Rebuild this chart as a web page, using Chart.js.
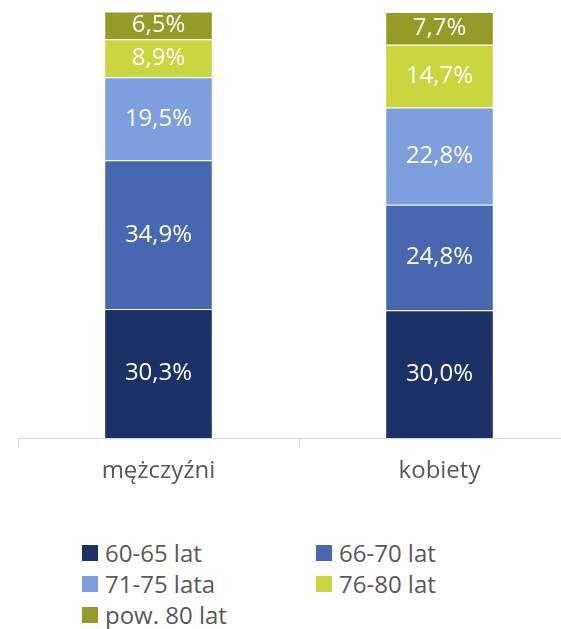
<!DOCTYPE html>
<html><head><meta charset="utf-8">
<script src="https://cdn.jsdelivr.net/npm/chart.js@4/dist/chart.umd.min.js"></script>
<style>
  html, body { margin: 0; padding: 0; background: #fff; overflow: hidden; }
  #wrap { position: absolute; left: 0; top: 0; width: 600px; height: 495px; }
  #legend { position: absolute; left: 82px; top: 538px; width: 470px; font-family: 'Open Sans', sans-serif;
    font-size: 24px; color: #595959; display: grid; grid-template-columns: 234px 234px; row-gap: 2px; }
  .lg { display: flex; align-items: center; height: 29px; }
  .sq { width: 16px; height: 16px; margin-right: 7px; flex: none; }
</style></head>
<body>
<div id="wrap"><canvas id="c"></canvas></div>
<div id="legend"></div>
<script>
const CATEGORIES = ['mężczyźni', 'kobiety'];
const SERIES = ['60-65 lat', '66-70 lat', '71-75 lata', '76-80 lat', 'pow. 80 lat'];
const V_60_65 = [30.3, 30.0];
const V_66_70 = [34.9, 24.8];
const V_71_75 = [19.5, 22.8];
const V_76_80 = [8.9, 14.7];
const V_80P = [6.5, 7.7];
const COLORS = ['#1c3168', '#4768b0', '#7e9fde', '#c9d640', '#949b27'];

const values = [V_60_65, V_66_70, V_71_75, V_76_80, V_80P];
const FONT = "'Open Sans', sans-serif";

// value labels centred on each stacked segment
const segLabels = {
  id: 'segLabels',
  afterDatasetsDraw(chart) {
    const ctx = chart.ctx;
    ctx.save();
    ctx.fillStyle = '#fff';
    ctx.font = `24px ${FONT}`;
    ctx.textAlign = 'center';
    ctx.textBaseline = 'middle';
    chart.data.datasets.forEach((ds, di) => {
      chart.getDatasetMeta(di).data.forEach((bar, i) => {
        const mid = (bar.y + bar.base) / 2;
        ctx.fillText(ds.data[i].toFixed(1).replace('.', ',') + '%', bar.x, mid);
      });
    });
    ctx.restore();
  }
};

new Chart(document.getElementById('c'), {
  type: 'bar',
  data: {
    labels: CATEGORIES,
    datasets: SERIES.map((s, i) => ({
      label: s,
      data: values[i],
      backgroundColor: COLORS[i],
      borderColor: '#ffffff',
      borderWidth: { top: 1, bottom: 0, left: 0, right: 0 },
      barPercentage: 0.76,
      categoryPercentage: 0.5,
    })),
  },
  options: {
    responsive: true, maintainAspectRatio: false, animation: false,
    layout: { padding: { top: 12, left: 18, right: 20, bottom: 0 } },
    plugins: { legend: { display: false }, tooltip: { enabled: false } },
    scales: {
      x: {
        stacked: true,
        grid: { display: true, drawOnChartArea: false, drawTicks: true, tickLength: 10, color: '#d9d9d9', offset: true },
        border: { display: true, color: '#d9d9d9', width: 1 },
        ticks: { color: '#595959', font: { family: FONT, size: 24 }, padding: 9 },
      },
      y: { stacked: true, display: false, min: 0, max: 100 },
    },
  },
  plugins: [segLabels],
});

document.getElementById('legend').innerHTML = SERIES.map((s, i) =>
  `<div class="lg"><span class="sq" style="background:${COLORS[i]}"></span>${s}</div>`).join('');
</script>
</body></html>
